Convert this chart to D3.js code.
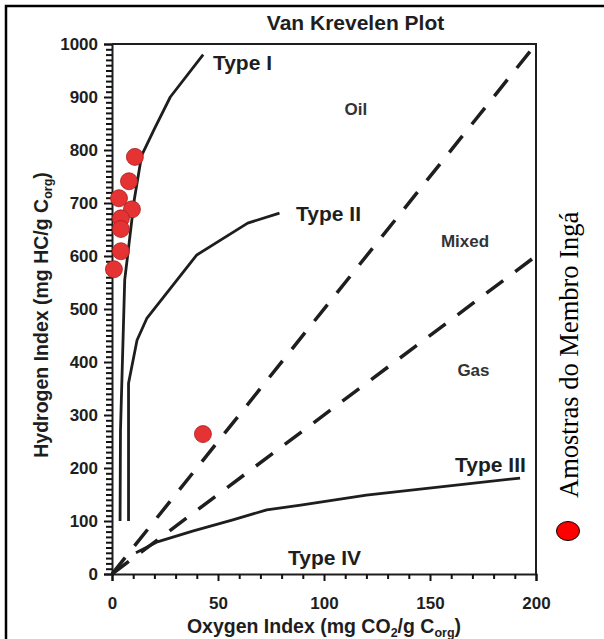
<!DOCTYPE html>
<html>
<head>
<meta charset="utf-8">
<script src="https://cdn.jsdelivr.net/npm/d3@7"></script>
<style>
  html, body { margin: 0; padding: 0; background: #fff; }
  svg { display: block; }
  text { font-family: "Liberation Sans", Arial, sans-serif; }
</style>
</head>
<body>
<svg id="chart" width="604" height="639"></svg>
<script>
// ---- data ----
const typeI_x   = [3.8, 4.0, 6.0, 10.5, 14, 20, 27.5, 43];
const typeI_y   = [100, 270, 555, 706, 790, 840, 900, 980];
const typeII_x  = [7.8, 7.8, 11.8, 16.5, 40, 64, 79];
const typeII_y  = [100, 360, 441, 483, 602, 662, 681];
const typeIII_x = [11.3, 21, 38, 57, 73, 89, 120, 192.5];
const typeIII_y = [40, 60, 81, 102, 121, 130, 149, 181];
const oilLine_x = [0, 200];
const oilLine_y = [0, 1000];
const gasLine_x = [0, 200];
const gasLine_y = [0, 600];
const sample_OI = [10.8, 8.0, 3.3, 9.4, 4.2, 4.2, 4.2, 0.9, 42.9];
const sample_HI = [787, 741, 709, 688, 671, 651, 609, 575, 264];
const typeLabels = ["Type I", "Type II", "Type III", "Type IV"];
const typeLabel_x = [47.6, 86.8, 161.8, 83];
const typeLabel_y = [951, 666, 192, 17];
const zoneLabels = ["Oil", "Mixed", "Gas"];
const zoneLabel_x = [115, 166.5, 170.5];
const zoneLabel_y = [866, 617, 373];
const xTicks = [0, 50, 100, 150, 200];
const yTicks = [0, 100, 200, 300, 400, 500, 600, 700, 800, 900, 1000];
const xMinorTicks = [0, 10, 20, 30, 40, 50, 60, 70, 80, 90, 100, 110, 120, 130, 140, 150, 160, 170, 180, 190, 200];
const yMinorTicks = [];
for (let v = 0; v <= 1000; v += 10) yMinorTicks.push(v);
const legendLabel = "Amostras do Membro Ingá";

(function () {
// ---- layout ----
const svg = d3.select("#chart");
const mL = 112, mR = 536, mT = 44, mB = 574;
const x = d3.scaleLinear().domain([0, 200]).range([mL, mR]);
const y = d3.scaleLinear().domain([0, 1000]).range([mB, mT]);
const ink = "#1e1e1e";

// outer border
svg.append("rect").attr("x", 6).attr("y", 6).attr("width", 640).attr("height", 660)
  .attr("fill", "none").attr("stroke", "#000").attr("stroke-width", 2.5);

// title
svg.append("text").attr("x", 355.5).attr("y", 30).attr("text-anchor", "middle")
  .attr("font-size", 21).attr("font-weight", "bold").attr("fill", ink).text("Van Krevelen Plot");

// frame (top / right)
svg.append("path")
  .attr("d", `M${mL},${mT}H${mR}V${mB}`)
  .attr("fill", "none").attr("stroke", ink).attr("stroke-width", 2);

// axes: one axis each, ticks every 10, labels only on the major values
const isYMajor = d => yTicks.indexOf(d) >= 0;
const isXMajor = d => xTicks.indexOf(d) >= 0;
const yAxis = d3.axisLeft(y).tickValues(yMinorTicks).tickSize(8).tickPadding(6)
  .tickFormat(d => isYMajor(d) ? d3.format("d")(d) : "");
const xAxis = d3.axisBottom(x).tickValues(xMinorTicks).tickSize(7).tickPadding(16)
  .tickFormat(d => isXMajor(d) ? d3.format("d")(d) : "");

function styleAxis(g) {
  g.selectAll("path.domain").attr("stroke", ink).attr("stroke-width", 2);
  g.selectAll(".tick line").attr("stroke", "#111").attr("stroke-width", 2);
  g.selectAll(".tick text").attr("fill", ink).attr("font-size", 17).attr("font-weight", "bold")
    .attr("font-family", "Liberation Sans, Arial, sans-serif");
}
const gy = svg.append("g").attr("transform", `translate(${mL},0)`).call(yAxis).call(styleAxis);
gy.selectAll(".tick line").filter(d => !isYMajor(d)).attr("x2", -6);
const gx = svg.append("g").attr("transform", `translate(0,${mB})`).call(xAxis).call(styleAxis);
gx.selectAll(".tick line").filter(d => !isXMajor(d)).attr("y2", 5);

// axis titles
const xt = svg.append("text").attr("x", 324).attr("y", 633).attr("text-anchor", "middle")
  .attr("font-size", 19.5).attr("font-weight", "bold").attr("fill", ink);
xt.append("tspan").text("Oxygen Index (mg CO");
xt.append("tspan").attr("font-size", 12.5).attr("dy", 4).text("2");
xt.append("tspan").attr("dy", -4).text("/g C");
xt.append("tspan").attr("font-size", 12.5).attr("dy", 4).text("org");
xt.append("tspan").attr("dy", -4).text(")");

const yt = svg.append("text").attr("transform", "translate(48,315) rotate(-90)")
  .attr("text-anchor", "middle").attr("font-size", 19.5).attr("font-weight", "bold").attr("fill", ink);
yt.append("tspan").text("Hydrogen Index (mg HC/g C");
yt.append("tspan").attr("font-size", 12.5).attr("dy", 4).text("org");
yt.append("tspan").attr("dy", -4).text(")");

// lines
const line = d3.line().x(d => x(d[0])).y(d => y(d[1]));
function curve(xs, ys, dashed) {
  const p = svg.append("path").datum(xs.map((v, i) => [v, ys[i]]))
    .attr("d", line).attr("fill", "none").attr("stroke", ink)
    .attr("stroke-linejoin", "round");
  if (dashed) p.attr("stroke-width", 3.5).attr("stroke-dasharray", "21,15");
  else p.attr("stroke-width", 2.8);
}
curve(oilLine_x, oilLine_y, true);
curve(gasLine_x, gasLine_y, true);
curve(typeI_x, typeI_y, false);
curve(typeII_x, typeII_y, false);
curve(typeIII_x, typeIII_y, false);

// labels
typeLabels.forEach((t, i) => {
  svg.append("text").attr("x", x(typeLabel_x[i])).attr("y", y(typeLabel_y[i]))
    .attr("font-size", 21).attr("font-weight", "bold").attr("fill", ink).text(t);
});
zoneLabels.forEach((t, i) => {
  svg.append("text").attr("x", x(zoneLabel_x[i])).attr("y", y(zoneLabel_y[i]))
    .attr("text-anchor", "middle").attr("font-size", 17).attr("font-weight", "bold")
    .attr("fill", "#333").text(t);
});

// samples
svg.append("g").selectAll("circle").data(sample_OI.map((v, i) => [v, sample_HI[i]]))
  .join("circle").attr("cx", d => x(d[0])).attr("cy", d => y(d[1])).attr("r", 8.5)
  .attr("fill", "#e53232").attr("stroke", "#a82020").attr("stroke-width", 0.8);

// legend
svg.append("ellipse").attr("cx", 568).attr("cy", 531).attr("rx", 11.5).attr("ry", 9.5)
  .attr("fill", "#ff0000").attr("stroke", "#000").attr("stroke-width", 1);
svg.append("text").attr("transform", "translate(578,498) rotate(-90)")
  .style("font-family", "'Liberation Serif', 'Times New Roman', serif")
  .attr("font-size", 26.5).attr("fill", "#000").text(legendLabel);
})();
</script>
</body>
</html>
